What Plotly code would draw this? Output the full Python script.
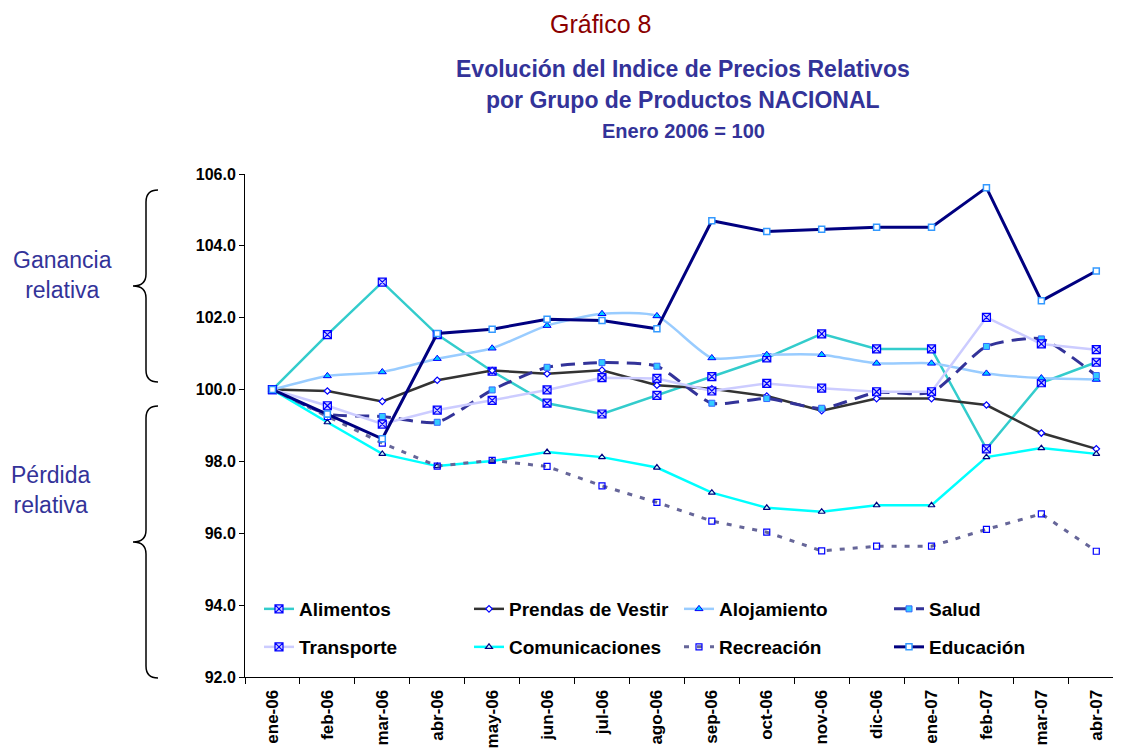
import plotly.graph_objects as go

# --- data ---
months = ["ene-06", "feb-06", "mar-06", "abr-06", "may-06", "jun-06", "jul-06", "ago-06",
          "sep-06", "oct-06", "nov-06", "dic-06", "ene-07", "feb-07", "mar-07", "abr-07"]

alimentos = [100.0, 101.53, 102.99, 101.53, 100.51, 99.62, 99.32, 99.84,
             100.36, 100.88, 101.55, 101.13, 101.13, 98.35, 100.19, 100.76]
prendas = [100.0, 99.96, 99.67, 100.26, 100.53, 100.44, 100.54, 100.12,
           100.02, 99.82, 99.41, 99.75, 99.75, 99.57, 98.79, 98.35]
alojamiento = [100.0, 100.38, 100.49, 100.86, 101.15, 101.78, 102.11, 102.05,
               100.88, 100.97, 100.97, 100.73, 100.73, 100.45, 100.32, 100.28]
salud = [100.0, 99.32, 99.25, 99.09, 99.99, 100.62, 100.75, 100.65,
         99.62, 99.75, 99.48, 99.92, 99.92, 101.2, 101.41, 100.39]
transporte = [100.0, 99.55, 99.04, 99.43, 99.70, 99.99, 100.33, 100.31,
              99.96, 100.17, 100.04, 99.94, 99.94, 102.01, 101.27, 101.11]
comunicaciones = [100.0, 99.09, 98.21, 97.87, 98.01, 98.26, 98.12, 97.83,
                  97.13, 96.71, 96.60, 96.78, 96.78, 98.12, 98.37, 98.21]
recreacion = [100.0, 99.25, 98.51, 97.87, 98.03, 97.86, 97.32, 96.86,
              96.34, 96.03, 95.51, 95.64, 95.64, 96.11, 96.54, 95.50]
educacion = [100.0, 99.32, 98.63, 101.56, 101.68, 101.96, 101.92, 101.69,
             104.70, 104.40, 104.46, 104.52, 104.52, 105.62, 102.47, 103.30]

y_ticks = [92, 94, 96, 98, 100, 102, 104, 106]

# the page puts the figure 8px in from the top-left corner
OFF = 8
SCREEN_W, SCREEN_H = 1121, 753
W, H = SCREEN_W - OFF, SCREEN_H - OFF

# plot area in screen pixels
L, R, T, B = 245, 1121, 174, 677


def px(x):
    return (x - L) / (R - L)


def py(y):
    return (B - y) / (B - T)


FONT = "Liberation Sans, Arial, sans-serif"
BLUE_TXT = "#333399"

fig = go.Figure()

series = [
    ("Alimentos", alimentos, dict(color="#33CCCC", width=2.5), None, "linear",
     dict(symbol="square-x", size=8, color="#CCCCFF", line=dict(color="#0000FF", width=1.2)), "legend"),
    ("Prendas de Vestir", prendas, dict(color="#333333", width=2.5), None, "linear",
     dict(symbol="diamond", size=5, color="white", line=dict(color="#0000FF", width=1.2)), "legend"),
    ("Alojamiento", alojamiento, dict(color="#99CCFF", width=2.5), None, "spline",
     dict(symbol="triangle-up", size=7, color="#00CCFF", line=dict(color="#0000FF", width=1)), "legend"),
    ("Salud", salud, dict(color="#333399", width=3), "14px,8px", "spline",
     dict(symbol="square", size=6, color="#33CCFF", line=dict(color="#3366FF", width=1)), "legend"),
    ("Transporte", transporte, dict(color="#CCCCFF", width=2.5), None, "linear",
     dict(symbol="square-x", size=8, color="#CCCCFF", line=dict(color="#0000FF", width=1.2)), "legend2"),
    ("Comunicaciones", comunicaciones, dict(color="#00FFFF", width=2.5), None, "linear",
     dict(symbol="triangle-up", size=6, color="#CCFFFF", line=dict(color="#000080", width=1.2)), "legend2"),
    ("Recreación", recreacion, dict(color="#666699", width=3), "5px,8px", "linear",
     dict(symbol="square-open", size=6, color="#0000FF", line=dict(color="#0000FF", width=1.2)), "legend2"),
    ("Educación", educacion, dict(color="#000080", width=3), None, "linear",
     dict(symbol="square", size=6, color="white", line=dict(color="#3399FF", width=1.5)), "legend2"),
]

for name, vals, line, dash, shape, marker, leg in series:
    ln = dict(line, shape=shape)
    if shape == "spline":
        ln["smoothing"] = 0.6
    if dash:
        ln["dash"] = dash
    fig.add_trace(go.Scatter(
        x=months, y=vals, name=name, mode="lines+markers",
        line=ln, marker=marker, legend=leg,
    ))

legend_style = dict(
    orientation="h",
    font=dict(family=FONT, size=19, color="black", weight="bold"),
    bgcolor="rgba(0,0,0,0)",
    entrywidth=165,
    entrywidthmode="pixels",
    xanchor="left",
    yanchor="middle",
    itemclick=False,
)

fig.update_layout(
    width=W, height=H,
    margin=dict(l=L - OFF, r=0, t=T - OFF, b=SCREEN_H - B),
    paper_bgcolor="white",
    plot_bgcolor="white",
    font=dict(family=FONT, color="black"),
    legend=dict(legend_style, x=px(259), y=py(609)),
    legend2=dict(legend_style, x=px(259), y=py(647)),
    xaxis=dict(
        type="category",
        range=[-0.5, 15.45],
        showline=True, linecolor="black", linewidth=1,
        ticks="outside", ticklen=6, tickcolor="black",
        tickson="boundaries",
        tickangle=-90,
        ticklabelstandoff=5,
        tickfont=dict(family=FONT, size=17, color="black", weight="bold"),
        showgrid=False, zeroline=False,
    ),
    yaxis=dict(
        range=[92, 106],
        tickvals=y_ticks,
        ticktext=[f"{v:.1f}" for v in y_ticks],
        showline=True, linecolor="black", linewidth=1,
        ticks="outside", ticklen=5, tickcolor="black",
        tickfont=dict(family=FONT, size=16, color="black", weight="bold"),
        showgrid=False, zeroline=False,
    ),
)

# titles and side labels
titles = [
    ("Gráfico 8", 600, 24, 25, "#8B0000", "normal"),
    ("Evolución del Indice de Precios Relativos", 683, 69, 23, BLUE_TXT, "bold"),
    ("por Grupo de Productos NACIONAL", 683, 100, 23, BLUE_TXT, "bold"),
    ("Enero 2006 = 100", 683, 131, 20, BLUE_TXT, "bold"),
    ("Ganancia<br>relativa", 62, 275, 23, BLUE_TXT, "normal"),
    ("Pérdida<br>relativa", 50, 490, 23, BLUE_TXT, "normal"),
]
for text, x, y, size, color, weight in titles:
    fig.add_annotation(
        text=text, x=px(x), y=py(y), xref="paper", yref="paper",
        showarrow=False, xanchor="center", yanchor="middle",
        font=dict(family=FONT, size=size, color=color, weight=weight),
    )


# curly braces
def brace(top, bottom, x_tip=133, x_mid=146, x_end=158, r=12):
    mid = (top + bottom) / 2
    pts = [
        ("M", (x_end, top)),
        ("Q", (x_mid, top), (x_mid, top + r)),
        ("L", (x_mid, mid - r)),
        ("Q", (x_mid, mid), (x_tip, mid)),
        ("Q", (x_mid, mid), (x_mid, mid + r)),
        ("L", (x_mid, bottom - r)),
        ("Q", (x_mid, bottom), (x_end, bottom)),
    ]
    parts = []
    for cmd, *coords in pts:
        parts.append(cmd + " " + " ".join(f"{px(a):.5f},{py(b):.5f}" for a, b in coords))
    return " ".join(parts)


for top, bottom in [(190, 382), (406, 678)]:
    fig.add_shape(type="path", path=brace(top, bottom), xref="paper", yref="paper",
                  line=dict(color="black", width=1.5))

fig.write_html("out.html")
